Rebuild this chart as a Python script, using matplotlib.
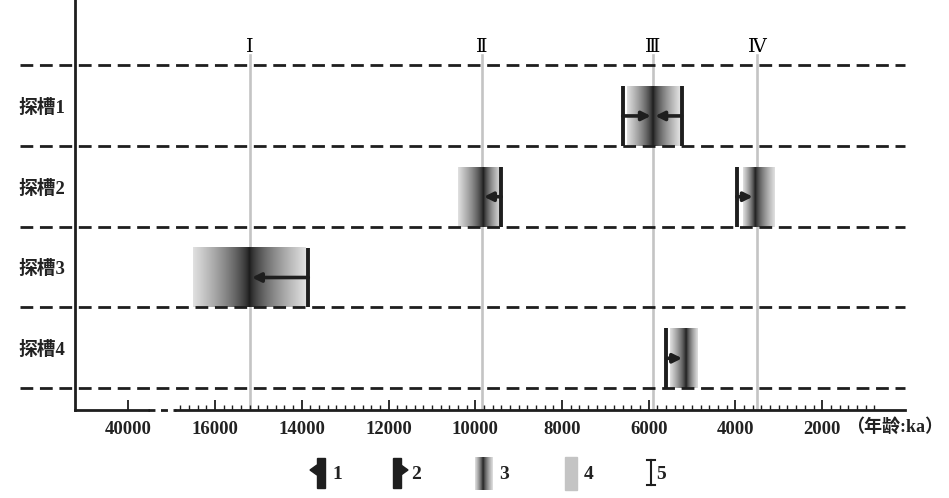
import numpy as np
import matplotlib
matplotlib.use('Agg')
import matplotlib.pyplot as plt
from matplotlib.patches import Rectangle, Polygon

plt.rcParams['font.family'] = ['Liberation Serif', 'DejaVu Serif', 'Noto Sans CJK SC']

#################################
# data (ages in years, plotted on a broken axis)
trenches = ['探槽1', '探槽2', '探槽3', '探槽4']

event_names = ['Ⅰ', 'Ⅱ', 'Ⅲ', 'Ⅳ']
event_ages = [15200, 9850, 5900, 3500]

# gradient boxes : row, old edge, young edge, darkest age
box_row = [0, 1, 1, 2, 3]
box_old = [6500, 10400, 3830, 16500, 5520]
box_young = [5280, 9420, 3100, 13900, 4880]
box_peak = [5900, 9820, 3550, 15200, 5150]

# age constraints : row, bar age, arrow tip age
bar_row = [0, 0, 1, 1, 2, 3]
bar_age = [6600, 5240, 9400, 3970, 13850, 5590]
bar_tip = [5950, 5850, 9800, 3600, 15150, 5230]

tick_pos = [18000, 16000, 14000, 12000, 10000, 8000, 6000, 4000, 2000]
tick_lab = ['40000', '16000', '14000', '12000', '10000', '8000', '6000', '4000', '2000']
minor_pos = np.arange(800, 16801, 200)
axis_break = (17550, 16900)

legend_labels = ['1', '2', '3', '4', '5']
#################################

DARK = '#1e1e1e'
GRAY = '#c4c4c4'


def profile(n, frac):
    # grey level across a box, darkest at frac
    x = np.linspace(0, 1, n)
    d = np.where(x < frac, (frac - x) / frac, (x - frac) / (1 - frac))
    return 0.10 + 0.78 * d ** 0.7


fig = plt.figure(figsize=(9.49, 4.98), dpi=100)
ax = fig.add_axes([75 / 949, 1 - 410 / 498, 830 / 949, 410 / 498])

xmin, xmax = 19230, 90
ymin, ymax = 4.27, -0.805

# horizontal dashed separators
for k in range(len(trenches) + 1):
    ax.plot([-0.066, 1.0], [k, k], transform=ax.get_yaxis_transform(),
            color=DARK, lw=2.0, dashes=(4.6, 2.4), clip_on=False, zorder=3)

# event lines
for name, age in zip(event_names, event_ages):
    ax.plot([age, age], [-0.12, ymin], color=GRAY, lw=1.9, zorder=1)
    ax.text(age, -0.22, name, ha='center', va='center', fontsize=14)

# gradient boxes
for r, o, y, p in zip(box_row, box_old, box_young, box_peak):
    prof = profile(300, (o - p) / (o - y))
    ax.imshow(prof[np.newaxis, :], extent=[o, y, r + 1.0, r + 0.26], aspect='auto',
              cmap='gray', vmin=0, vmax=1, interpolation='bilinear', zorder=2)

# bars with arrows
for r, a, t in zip(bar_row, bar_age, bar_tip):
    ax.plot([a, a], [r + 0.26, r + 1.0], color=DARK, lw=2.8, solid_capstyle='butt', zorder=4)
    ax.annotate('', xy=(t, r + 0.63), xytext=(a, r + 0.63),
                arrowprops=dict(arrowstyle='-|>', lw=2.6, color=DARK,
                                mutation_scale=13, shrinkA=0, shrinkB=0), zorder=4)

for k, name in enumerate(trenches):
    ax.text(-0.068, k + 0.53, name, transform=ax.get_yaxis_transform(),
            ha='left', va='center', fontsize=13.5, fontweight='bold', color='#222222')

ax.set_xlim(xmin, xmax)
ax.set_ylim(ymin, ymax)
ax.set_yticks([])
ax.set_xticks(tick_pos)
ax.set_xticklabels(tick_lab, fontsize=13.5, fontweight='bold', color='#222222')
ax.set_xticks(minor_pos, minor=True)
ax.tick_params(axis='x', which='major', direction='in', length=7.5, width=1.3, color=DARK, pad=8)
ax.tick_params(axis='x', which='minor', direction='in', length=3.5, width=1.0, color=DARK)

for s in ['top', 'right', 'bottom']:
    ax.spines[s].set_visible(False)
ax.spines['left'].set_linewidth(2.0)
ax.spines['left'].set_color(DARK)

# broken x axis line
tr = ax.get_xaxis_transform()
ax.plot([xmin, axis_break[0]], [0, 0], transform=tr, color=DARK, lw=2.0, clip_on=False)
ax.plot([axis_break[0], axis_break[1]], [0, 0], transform=tr, color=DARK, lw=2.0,
        dashes=(2.5, 2.0), clip_on=False)
ax.plot([axis_break[1], xmax], [0, 0], transform=tr, color=DARK, lw=2.0, clip_on=False)

fig.text(846 / 949, 1 - 427 / 498, '（年龄:ka）', ha='left', va='center',
         fontsize=13, fontweight='bold', color='#222222')

# legend, drawn in pixel units
lg = fig.add_axes([0, 0, 1, 1], facecolor='none')

lg.add_patch(Rectangle((317, 458), 8, 30, color=DARK))
lg.add_patch(Polygon([(317, 465), (310, 470), (317, 475)], color=DARK))
lg.add_patch(Rectangle((393, 458), 8, 30, color=DARK))
lg.add_patch(Polygon([(401, 465), (408, 470), (401, 475)], color=DARK))
lg.imshow(profile(100, 0.45)[np.newaxis, :], extent=[475, 493, 490, 457], aspect='auto',
          cmap='gray', vmin=0, vmax=1, interpolation='bilinear')
lg.add_patch(Rectangle((565, 457), 12, 33, color=GRAY))
lg.plot([651, 651], [460, 485], color=DARK, lw=1.5)
lg.plot([647, 655], [460, 460], color=DARK, lw=1.5)
lg.plot([647, 655], [485, 485], color=DARK, lw=1.5)
lg.set_xlim(0, 949)
lg.set_ylim(498, 0)
lg.axis('off')

for xl, lab in zip([332, 411, 499, 584, 656], legend_labels):
    lg.text(xl, 474, lab, ha='left', va='center', fontsize=14, fontweight='bold', color='#222222')

plt.savefig('out.png', dpi=100)
